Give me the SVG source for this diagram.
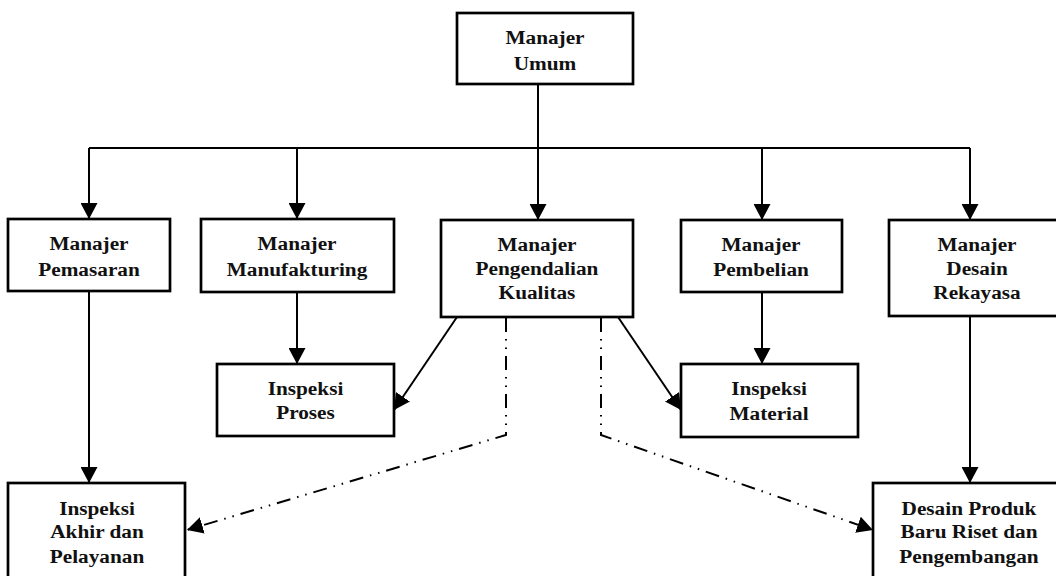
<svg xmlns="http://www.w3.org/2000/svg" width="1056" height="576" viewBox="0 0 1056 576">
<style>
.box{fill:#fff;stroke:#000;stroke-width:2.7}
.t{font-family:"Liberation Serif","Times New Roman",serif;font-weight:bold;font-size:19px;text-anchor:middle;fill:#111}
.ln{fill:none;stroke:#000;stroke-width:2}
.dd{fill:none;stroke:#000;stroke-width:2;stroke-dasharray:14 7 1.5 7 1.5 7}
</style>
<defs>
<marker id="ah" markerUnits="userSpaceOnUse" markerWidth="17" markerHeight="17" viewBox="0 0 16 16" refX="15" refY="8" orient="auto">
<path d="M0,0 L15,8 L0,16 Z" fill="#000"/>
</marker>
</defs>
<rect width="1056" height="576" fill="#fff"/>
<g id="connectors">
<line class="ln" x1="89" y1="148" x2="970" y2="148"/>
<line class="ln" x1="538" y1="84" x2="538" y2="220" marker-end="url(#ah)"/>
<line class="ln" x1="89" y1="148" x2="89" y2="219" marker-end="url(#ah)"/>
<line class="ln" x1="297" y1="148" x2="297" y2="219" marker-end="url(#ah)"/>
<line class="ln" x1="762" y1="148" x2="762" y2="220" marker-end="url(#ah)"/>
<line class="ln" x1="970" y1="148" x2="970" y2="220" marker-end="url(#ah)"/>
<line class="ln" x1="89" y1="291" x2="89" y2="483" marker-end="url(#ah)"/>
<line class="ln" x1="297" y1="292" x2="297" y2="364" marker-end="url(#ah)"/>
<line class="ln" x1="762" y1="292" x2="762" y2="364" marker-end="url(#ah)"/>
<line class="ln" x1="970" y1="316" x2="970" y2="483" marker-end="url(#ah)"/>
<line class="ln" x1="457" y1="317" x2="394" y2="410" marker-end="url(#ah)"/>
<line class="ln" x1="618" y1="317" x2="681" y2="410" marker-end="url(#ah)"/>
<polyline class="dd" points="506,318 506,435 187,530" marker-end="url(#ah)"/>
<polyline class="dd" points="601,318 601,435 873,530" marker-end="url(#ah)"/>
</g>
<g id="umum"><rect class="box" x="457" y="13" width="176" height="71"/>
<text class="t" transform="translate(545 0) scale(1.12 1)"><tspan x="0" y="44">Manajer</tspan><tspan x="0" y="70">Umum</tspan></text></g>
<g id="pemasaran"><rect class="box" x="8" y="219" width="162" height="72"/>
<text class="t" transform="translate(89 0) scale(1.12 1)"><tspan x="0" y="250">Manajer</tspan><tspan x="0" y="276">Pemasaran</tspan></text></g>
<g id="manufakturing"><rect class="box" x="201" y="219" width="193" height="73"/>
<text class="t" transform="translate(297 0) scale(1.12 1)"><tspan x="0" y="250">Manajer</tspan><tspan x="0" y="276">Manufakturing</tspan></text></g>
<g id="pengendalian"><rect class="box" x="441" y="220" width="192" height="97"/>
<text class="t" transform="translate(537 0) scale(1.12 1)"><tspan x="0" y="251">Manajer</tspan><tspan x="0" y="275">Pengendalian</tspan><tspan x="0" y="299">Kualitas</tspan></text></g>
<g id="pembelian"><rect class="box" x="681" y="220" width="161" height="72"/>
<text class="t" transform="translate(761 0) scale(1.12 1)"><tspan x="0" y="251">Manajer</tspan><tspan x="0" y="276">Pembelian</tspan></text></g>
<g id="rekayasa"><rect class="box" x="889" y="220" width="180" height="96"/>
<text class="t" transform="translate(977 0) scale(1.12 1)"><tspan x="0" y="251">Manajer</tspan><tspan x="0" y="275">Desain</tspan><tspan x="0" y="299">Rekayasa</tspan></text></g>
<g id="proses"><rect class="box" x="217" y="364" width="177" height="72"/>
<text class="t" transform="translate(305.5 0) scale(1.12 1)"><tspan x="0" y="395">Inspeksi</tspan><tspan x="0" y="419">Proses</tspan></text></g>
<g id="material"><rect class="box" x="681" y="364" width="177" height="73"/>
<text class="t" transform="translate(769 0) scale(1.12 1)"><tspan x="0" y="395">Inspeksi</tspan><tspan x="0" y="420">Material</tspan></text></g>
<g id="akhir"><rect class="box" x="8" y="483" width="177" height="100"/>
<text class="t" transform="translate(97 0) scale(1.12 1)"><tspan x="0" y="515">Inspeksi</tspan><tspan x="0" y="538">Akhir dan</tspan><tspan x="0" y="563">Pelayanan</tspan></text></g>
<g id="desainproduk"><rect class="box" x="873" y="483" width="196" height="100"/>
<text class="t" transform="translate(969 0) scale(1.12 1)"><tspan x="0" y="515">Desain Produk</tspan><tspan x="0" y="538">Baru Riset dan</tspan><tspan x="0" y="563">Pengembangan</tspan></text></g>
</svg>
